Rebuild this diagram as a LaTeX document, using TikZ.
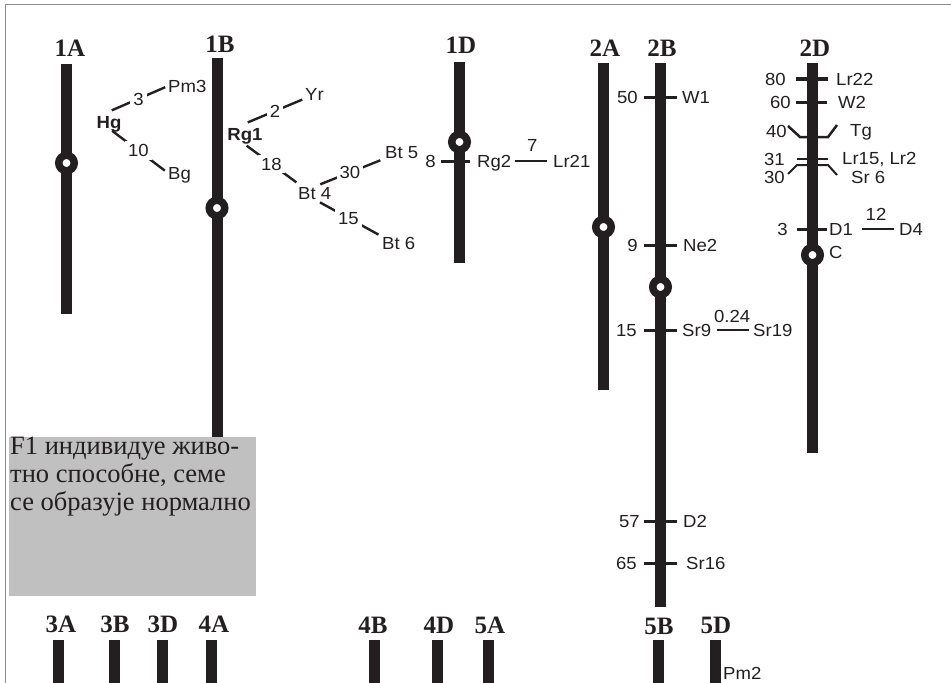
\documentclass[tikz,border=0pt]{standalone}
\usepackage{fontspec}
\setmainfont{Liberation Serif}
\newfontfamily\labsans[FakeStretch=1.06]{Liberation Sans}
\newcommand\labfont{\labsans\fontsize{17.5}{17.5}\selectfont}
\definecolor{chrom}{RGB}{35,31,32}
\definecolor{boxgray}{RGB}{192,192,192}
\definecolor{framegray}{RGB}{140,140,140}
\begin{document}
\begin{tikzpicture}[x=1pt,y=-1pt,
  chr/.style={draw=chrom, line width=11pt},
  cen/.style={circle, draw=chrom, line width=7.5pt, fill=white, minimum size=15.5pt, inner sep=0pt},
  chrlab/.style={font=\fontsize{25}{25}\selectfont\bfseries, text=chrom, inner sep=0pt, anchor=base},
  num/.style={font=\labfont, text=chrom, inner sep=0pt, text height=12.5pt, text depth=0pt, anchor=east},
  gene/.style={num, anchor=west},
  bgene/.style={num, anchor=center, font=\labfont\bfseries},
  onl/.style={font=\labfont, text=chrom, fill=white, inner sep=3pt, text height=12.5pt, text depth=0pt},
  seg/.style={draw=chrom, line width=2.4pt},
  tick/.style={draw=chrom, line width=3pt},
  frame/.style={draw=framegray, line width=1pt}
]
\useasboundingbox (0,0) rectangle (951,683);
\draw[frame] (951,4.5) -- (5.5,4.5) -- (5.5,683);

% chromosome bodies
\foreach \x/\t/\b in {66.5/64/314, 217/58/437, 459.5/62/263, 603.5/63/390,
  660.5/63/607, 812.5/63/453, 58.5/640/683, 114/640/683, 162/640/683,
  211/640/683, 374.5/640/683, 437/640/683, 488/640/683, 658.5/640/683, 715.5/640/683}
  \draw[chr] (\x,\t) -- (\x,\b);

% marker ticks on 2B
\foreach \y in {97,245,330,521,563}
  \draw[tick] (644,\y) -- (677,\y);
% marker tick on 1D
\draw[tick] (441,161) -- (470,161);
% marker ticks on 2D
\draw[tick, line width=3.5pt] (796,79) -- (828,79);
\draw[tick] (796,102) -- (827,102);
\draw[tick, line width=2.5pt, line join=miter] (788,126) -- (800,137) -- (828,137) -- (837,125);
\draw[tick, line width=1.5pt] (797,159) -- (828,159);
\draw[tick, line width=2pt, line join=miter] (788,174) -- (797,165) -- (828,165) -- (837,175);
\draw[tick] (797,229) -- (827,229);

% centromeres
\node[cen] (c1A) at (66.5,163) {};
\node[cen] (c1B) at (217,208) {};
\node[cen] (c1D) at (459.5,142) {};
\node[cen] (c2A) at (603.5,227) {};
\node[cen] (c2B) at (660.5,287) {};
\node[cen] (c2D) at (812.5,255) {};

% chromosome names
\node[chrlab] (l1A) at (70,56.5) {1A};
\node[chrlab] (l1B) at (220,52) {1B};
\node[chrlab] (l1D) at (461,53) {1D};
\node[chrlab] (l2A) at (605,56) {2A};
\node[chrlab] (l2B) at (662,56) {2B};
\node[chrlab] (l2D) at (815,56) {2D};
\node[chrlab] (l3A) at (61,632) {3A};
\node[chrlab] (l3B) at (115,632) {3B};
\node[chrlab] (l3D) at (163,632) {3D};
\node[chrlab] (l4A) at (214,632) {4A};
\node[chrlab] (l4B) at (373,633) {4B};
\node[chrlab] (l4D) at (439,633) {4D};
\node[chrlab] (l5A) at (490,633) {5A};
\node[chrlab] (l5B) at (659,634) {5B};
\node[chrlab] (l5D) at (716,633) {5D};

% Hg linkage group
\node[bgene] (hg) at (109,122) {Hg};
\node[gene] (pm3) at (168,86) {Pm3};
\node[gene] (bg) at (168,173) {Bg};
\draw[seg, shorten <=3pt, shorten >=3pt] ([yshift=4pt]hg.north) -- node[onl] (d3) {3} (pm3.west);
\draw[seg, shorten <=4pt, shorten >=4pt] (hg.south) -- node[onl] (d10) {10} (bg.west);

% Rg1 / Bt linkage group
\node[bgene] (rg1) at (245,134) {Rg1};
\node[gene] (yr) at (305,94) {Yr};
\node[gene] (bt4) at (298,193) {Bt 4};
\node[gene] (bt5) at (385,152) {Bt 5};
\node[gene] (bt6) at (382,243) {Bt 6};
\draw[seg, shorten <=3pt, shorten >=3pt] ([yshift=4pt]rg1.north) -- node[onl] (d2) {2} ([yshift=2pt]yr.south west);
\draw[seg, shorten <=2pt, shorten >=2pt] ([yshift=-4pt]rg1.south) -- node[onl] (d18) {18} ([yshift=3pt]bt4.north west);
\draw[seg, shorten <=6pt, shorten >=5pt] (bt4.north) -- node[onl] (d30) {30} (bt5.south west);
\draw[seg, shorten <=6pt, shorten >=4pt] (bt4.south) -- node[onl] (d15) {15} (bt6.north west);

% 1D markers
\node[num] (n8) at (436,161) {8};
\node[gene] (rg2) at (477,161) {Rg2};
\node[gene] (lr21) at (553,161) {Lr21};
\draw[seg, shorten <=4pt, shorten >=6pt] (rg2) -- node[num, anchor=south, above=8.75pt] (d7) {7} (lr21);

% 2B markers
\node[num] (n50) at (638,97) {50};
\node[gene] (w1) at (682,97) {W1};
\node[num] (n9) at (638,245) {9};
\node[gene] (ne2) at (683,245) {Ne2};
\node[num] (n15) at (637,330) {15};
\node[gene] (sr9) at (682,330) {Sr9};
\node[gene] (sr19) at (753,330) {Sr19};
\draw[seg, shorten <=6pt, shorten >=4pt] (sr9) -- node[num, anchor=south, above=6.25pt] (d024) {0.24} (sr19);
\node[num] (n57) at (640,521.5) {57};
\node[gene] (d2g) at (683,521.5) {D2};
\node[num] (n65) at (637,563.5) {65};
\node[gene] (sr16) at (686,563.5) {Sr16};

% 2D markers
\node[num] (n80) at (786,79) {80};
\node[gene] (lr22) at (836,79) {Lr22};
\node[num] (n60) at (791,102.5) {60};
\node[gene] (w2) at (838,102.5) {W2};
\node[num] (n40) at (787,131.5) {40};
\node[gene] (tg) at (850,130) {Tg};
\node[num] (n31) at (785,159.5) {31};
\node[gene] (lr15) at (842,158.5) {Lr15, Lr2};
\node[num] (n30) at (785,177.5) {30};
\node[gene] (sr6) at (851,177.5) {Sr 6};
\node[num] (n3) at (788,229) {3};
\node[gene] (d1) at (829,229) {D1};
\node[gene] (d4) at (899,229) {D4};
\draw[seg, shorten <=9pt, shorten >=5pt] (d1) -- node[num, anchor=south, above=7.75pt] (d12) {12} (d4);
\node[gene] (cc) at (829,252.5) {C};

% 5D marker
\node[gene] (pm2) at (723,673) {Pm2};

% F1 note
\fill[boxgray] (9,437) rectangle (256,596);
\node[anchor=north west, inner sep=0pt, align=left, text=chrom,
  font=\fontsize{26.5}{28}\selectfont] (note) at (10,437)
  {F1 индивидуе живо-\\тно способне, семе\\се образује нормално};
\end{tikzpicture}
\end{document}
